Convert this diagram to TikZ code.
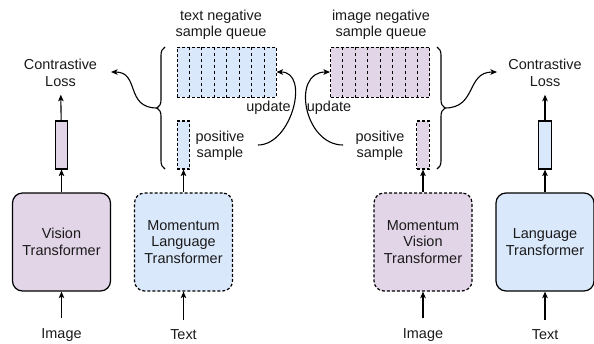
\documentclass[tikz,border=0pt]{standalone}
\usepackage{fontspec}
\setmainfont{Liberation Sans}
\usetikzlibrary{arrows.meta,decorations.pathreplacing,calc}
\definecolor{vpurple}{HTML}{E1D5E7}
\definecolor{lblue}{HTML}{DAE8FC}
\definecolor{ink}{HTML}{1A1A1A}

\begin{document}
\begin{tikzpicture}[x=1bp,y=-1bp,
  font=\fontsize{14.5}{16.5}\selectfont,
  encoder/.style={draw=black, line width=1.2bp, rounded corners=10bp,
    minimum width=98bp, minimum height=98bp, align=center, text=ink, inner sep=0},
  dashline/.style={dash pattern=on 3bp off 2bp},
  feat/.style={draw=black, line width=1.1bp, minimum width=12.5bp,
    minimum height=48bp, inner sep=0},
  queue/.style={draw=black, line width=1bp, dashline, minimum width=99bp,
    minimum height=50bp, inner sep=0},
  lbl/.style={align=center, text=ink, inner sep=0},
  arr/.style={-{Stealth[length=6.5bp,width=5.5bp,inset=1.5bp]}, line width=1.1bp},
  brace/.style={decorate, decoration={brace, amplitude=8bp}, line width=1.1bp}]
\useasboundingbox (0,0) rectangle (594,343);

% encoders
\node[encoder, fill=vpurple] (vit) at (61.5,242) {Vision\\Transformer};
\node[encoder, dashline, fill=lblue] (mlt) at (183.5,242) {Momentum\\Language\\Transformer};
\node[encoder, dashline, fill=vpurple] (mvt) at (423,242) {Momentum\\Vision\\Transformer};
\node[encoder, fill=lblue] (lt) at (545,242) {Language\\Transformer};

% inputs
\node[lbl] (img1) at (61.5,335) {Image};
\node[lbl] (txt1) at (183.5,335) {Text};
\node[lbl] (img2) at (423,335) {Image};
\node[lbl] (txt2) at (545,335) {Text};
\draw[arr, shorten <=10bp] (img1) -- (vit);
\draw[arr, shorten <=10bp] (txt1) -- (mlt);
\draw[arr, shorten <=10bp] (img2) -- (mvt);
\draw[arr, shorten <=10bp] (txt2) -- (lt);

% feature vectors
\node[feat, fill=vpurple] (vfeat) at (61.5,145) {};
\node[feat, dashline, fill=lblue] (tpos) at (183.5,145) {};
\node[feat, dashline, fill=vpurple] (ipos) at (423,145) {};
\node[feat, fill=lblue] (lfeat) at (545,145) {};
\draw[arr] (vit) -- (vfeat);
\draw[arr] (mlt) -- (tpos);
\draw[arr] (mvt) -- (ipos);
\draw[arr] (lt) -- (lfeat);

% losses
\node[lbl] (cl1) at (60.5,73) {Contrastive\\Loss};
\node[lbl] (cl2) at (545,73) {Contrastive\\Loss};
\draw[arr, shorten >=8bp] (vfeat) -- (cl1);
\draw[arr, shorten >=8bp] (lfeat) -- (cl2);

% negative sample queues
\node[queue, fill=lblue] (tq) at (226.5,72) {};
\node[queue, fill=vpurple] (iq) at (380,72) {};
\foreach \q in {tq,iq}{
  \foreach \i in {1,...,7}{
    \draw[dash pattern=on 3.5bp off 2.5bp, line width=1bp]
      ($(\q.north west)!\i/8!(\q.north east)$)
      -- ($(\q.south west)!\i/8!(\q.south east)$);
  }
}
\node[lbl] (tqlbl) at (221,25) {text negative\\sample queue};
\node[lbl] (iqlbl) at (381,25) {image negative\\sample queue};

% positive sample labels
\node[lbl] (tposlbl) at (220,146) {positive\\sample};
\node[lbl] (iposlbl) at (380,146) {positive\\sample};
\node[lbl] (tupd) at (268.5,108) {update};
\node[lbl] (iupd) at (329,108) {update};

% queue updates
\coordinate (tstart) at (258,145);
\coordinate (istart) at (343,145);
\draw[arr] (tstart) to[out=0, in=0, looseness=1.15] (tq.east);
\draw[arr] (istart) to[out=180, in=180, looseness=1.35] (iq.west);

% braces grouping queue and positive sample
\coordinate (tb1) at (165,169);
\coordinate (tb2) at (165,47);
\coordinate (ib1) at (437,47);
\coordinate (ib2) at (437,169);
\draw[brace] (tb1) -- (tb2);
\draw[brace] (ib1) -- (ib2);
\coordinate (ttip) at (157,108);
\coordinate (itip) at (445,108);
\coordinate (cl1in) at (111,72);
\coordinate (cl2in) at (497,72);
\draw[arr] (ttip) .. controls (125,108) and (140,72) .. (cl1in);
\draw[arr] (itip) .. controls (477,108) and (466,72) .. (cl2in);
\end{tikzpicture}
\end{document}
